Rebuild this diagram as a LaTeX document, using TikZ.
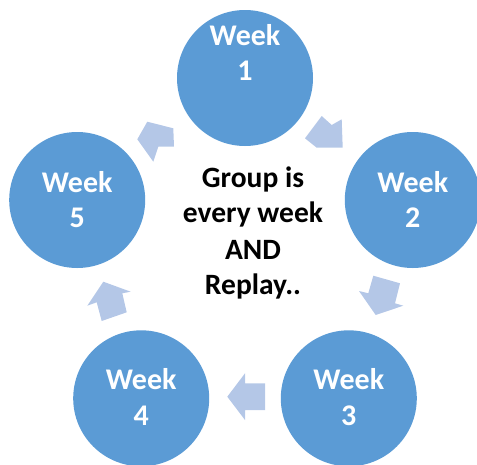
\documentclass[tikz,border=0pt]{standalone}
\usepackage{fontspec}
\setmainfont{Carlito}
\definecolor{circblue}{HTML}{5B9BD5}
\definecolor{arrblue}{HTML}{B4C7E7}
\begin{document}
\begin{tikzpicture}[x=1pt,y=-1pt,
  wkcircle/.style={circle,fill=circblue,draw=none,minimum size=136pt,inner sep=0pt},
  wktext/.style={text=white,align=center,font=\bfseries\fontsize{30}{35}\selectfont,inner sep=0pt},
  midtext/.style={text=black,align=center,font=\bfseries\fontsize{29.5}{35.5}\selectfont,inner sep=0pt},
  cyclearrow/.style={fill=arrblue,draw=none}]
\useasboundingbox (0,0) rectangle (477,464);
\clip (0,0) rectangle (477,464);
% circles
\node[wkcircle] (w1) at (245,78) {};
\node[wkcircle] (w2) at (412.8,200) {};
\node[wkcircle] (w3) at (348.8,398.3) {};
\node[wkcircle] (w4) at (141.2,398.3) {};
\node[wkcircle] (w5) at (77.2,200) {};
% circle texts
\node[wktext,anchor=base] (t1a) at (245,45) {Week};
\node[wktext,anchor=base] (t1b) at (245,80) {1};
\node[wktext,anchor=base] (t2a) at (412.8,192) {Week};
\node[wktext,anchor=base] (t2b) at (412.8,227) {2};
\node[wktext,anchor=base] (t3a) at (348.8,389) {Week};
\node[wktext,anchor=base] (t3b) at (348.8,425) {3};
\node[wktext,anchor=base] (t4a) at (141.2,389) {Week};
\node[wktext,anchor=base] (t4b) at (141.2,425) {4};
\node[wktext,anchor=base] (t5a) at (77.2,192) {Week};
\node[wktext,anchor=base] (t5b) at (77.2,227) {5};
% centre text
\node[midtext,anchor=base] (m1) at (253,187) {Group is};
\node[midtext,anchor=base] (m2) at (253,222) {every week};
\node[midtext,anchor=base] (m3) at (253,259) {AND};
\node[midtext,anchor=base] (m4) at (253,294) {Replay..};
% arrows
\fill[cyclearrow] (305,138.3) -- (321.7,116) -- (331.7,125) -- (341.7,119.3) -- (342.7,147.7) -- (316.7,147.7) -- cycle;
\fill[cyclearrow] (373.3,275.7) -- (400,283.3) -- (395,303.3) -- (403.3,305.7) -- (375.7,315) -- (359,291) -- (368.3,293.3) -- cycle;
\fill[cyclearrow] (265,383.3) -- (245,383.3) -- (245,373.3) -- (227.3,396.7) -- (245,420) -- (245,410) -- (265,410) -- cycle;
\fill[cyclearrow] (103.3,281.7) -- (130.7,291.7) -- (122.3,293.3) -- (126.7,312.3) -- (101.7,321) -- (96.7,302.3) -- (87.3,305.7) -- cycle;
\fill[cyclearrow] (137.3,139.3) -- (147.3,121.7) -- (173.3,128.3) -- (174,146.7) -- (158.3,146.7) -- (153.3,161.7) -- cycle;
\end{tikzpicture}
\end{document}
